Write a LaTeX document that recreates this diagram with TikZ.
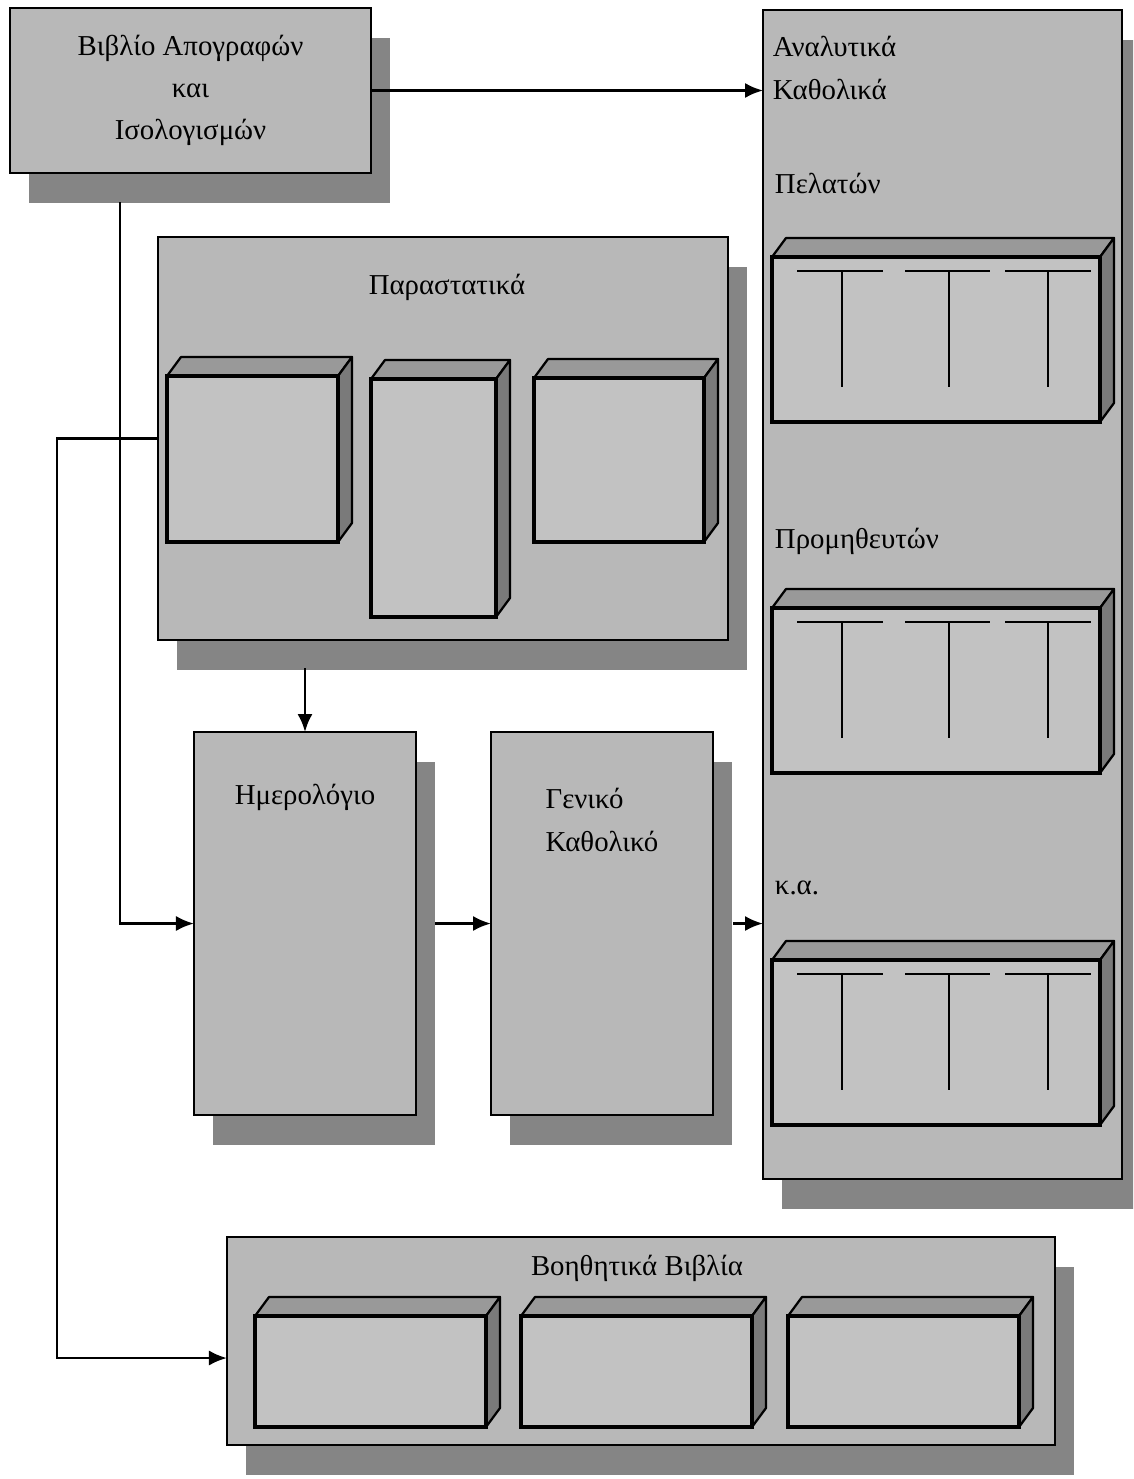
\documentclass[tikz,border=0pt]{standalone}
\usepackage{fontspec}
\setmainfont{Liberation Serif}
\usetikzlibrary{arrows.meta,calc,shadows}

\newcommand{\pxl}{0.025cm}
% 3Δ κουτί: μπροστινή όψη (#1,#2)--(#3,#4)
\newcommand{\kouti}[4]{%
  \filldraw[topface] (#1,#2) -- (#1+14,#2-19) -- (#3+14,#2-19) -- (#3,#2) -- cycle;
  \filldraw[sideface] (#3,#2) -- (#3+14,#2-19) -- (#3+14,#4-19) -- (#3,#4) -- cycle;
  \filldraw[frontface] (#1,#2) rectangle (#3,#4);
}

\tikzset{
  panel/.style={draw, line width=1.6pt, fill=black!28, inner sep=0pt, outer sep=0pt,
    drop shadow={shadow xshift=0.475cm, shadow yshift=-0.75cm, fill=black!48, opacity=1}},
  boxsize/.style 2 args={minimum width=#1*\pxl, minimum height=#2*\pxl},
  topface/.style={draw, line width=1.6pt, line join=round, fill=black!40},
  sideface/.style={draw, line width=1.6pt, line join=round, fill=black!52},
  frontface/.style={draw, line width=2.3pt, fill=black!24},
  tline/.style={line width=1.8pt},
  arrow/.style={line width=2pt, -{Latex[length=0.45cm, width=0.38cm]}}
}

\begin{document}
\begin{tikzpicture}[x=\pxl, y=-\pxl, every node/.style={font=\fontsize{20.5}{30}\selectfont}]
  \useasboundingbox (0,0) rectangle (1133,1479);
  \clip (0,0) rectangle (1133,1479);

  % κύρια κουτιά
  \node[panel, boxsize={361}{165}, anchor=north west, align=center] (vivlio) at (10,8)
    {Βιβλίο Απογραφών\\και\\Ισολογισμών};
  \node[panel, boxsize={570}{403}, anchor=north west] (parast) at (158,237) {};
  \node[panel, boxsize={222}{383}, anchor=north west] (imer) at (194,732) {};
  \node[panel, boxsize={222}{383}, anchor=north west] (geniko) at (491,732) {};
  \node[panel, boxsize={359}{1169}, anchor=north west] (anal) at (763,10) {};
  \node[panel, boxsize={828}{208}, anchor=north west] (voith) at (227,1237) {};

  % τίτλοι
  \node (t_parast) at (447,287) {Παραστατικά};
  \node (t_imer) at (305,797) {Ημερολόγιο};
  \node[align=left] (t_geniko) at (602,820) {Γενικό\\Καθολικό};
  \node[align=left, anchor=west] (t_anal) at (768,68) {Αναλυτικά\\Καθολικά};
  \node[anchor=west] (t_pel) at (770,183) {Πελατών};
  \node[anchor=west] (t_prom) at (770,541) {Προμηθευτών};
  \node[anchor=west] (t_ka) at (770,888) {κ.α.};
  \node (t_voith) at (637,1268) {Βοηθητικά Βιβλία};

  % παραστατικά
  \kouti{167}{376}{338}{542}
  \kouti{371}{379}{496}{617}
  \kouti{534}{378}{704}{542}

  % βοηθητικά βιβλία
  \foreach \x in {255,521,788} {
    \kouti{\x}{1316}{\x+231}{1427}
  }

  % καρτέλες λογαριασμών
  \foreach \y in {257,608,960} {
    \kouti{772}{\y}{1100}{\y+165}
    \foreach \a/\m/\b in {25/70/111,133/177/218,233/276/319}
      \draw[tline] (772+\a,\y+14) -- (772+\b,\y+14) (772+\m,\y+14) -- (772+\m,\y+130);
  }

  % βέλη
  \coordinate (vstart) at ($(vivlio.south west)+(110,29)$);
  \draw[arrow] (vivlio.east) -- (vivlio.east -| anal.west);
  \draw[arrow] (vstart) |- (imer.west);
  \draw[arrow] (parast.west) -- ++(-101,0) |- ([yshift=-17*\pxl]voith.west);
  \draw[arrow] ($(parast.south -| imer.north)+(0,28)$) -- (imer.north);
  \draw[arrow] ($(imer.east)+(19,0)$) -- (geniko.west);
  \draw[arrow] ($(geniko.east)+(20,0)$) -- (geniko.east -| anal.west);
\end{tikzpicture}
\end{document}
